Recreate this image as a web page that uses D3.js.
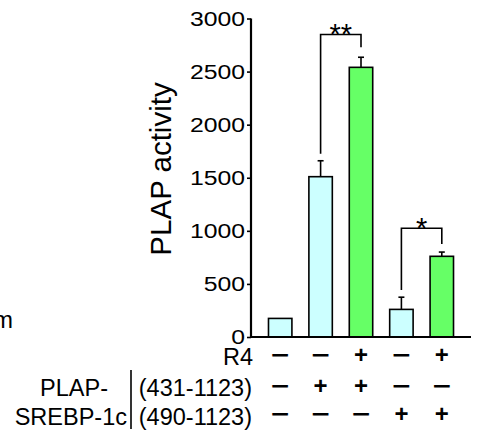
<!DOCTYPE html>
<html>
<head>
<meta charset="utf-8">
<script src="https://cdn.jsdelivr.net/npm/d3@7"></script>
<style>
  body { margin: 0; background: #fff; }
  text { font-family: "Liberation Sans", Arial, sans-serif; fill: #000; }
</style>
</head>
<body>
<div id="chart"></div>
<script>
let groups = ['g1', 'g2', 'g3', 'g4', 'g5'];
let values = [175, 1510, 2540, 260, 760];
let errors = [0, 150, 95, 115, 40];
let barColors = ['#ccffff', '#ccffff', '#66ff66', '#ccffff', '#66ff66'];
let yTicks = [0, 500, 1000, 1500, 2000, 2500, 3000];

let r4Row = ['\u2212', '\u2212', '+', '\u2212', '+'];
let row431 = ['\u2212', '+', '+', '\u2212', '\u2212'];
let row490 = ['\u2212', '\u2212', '\u2212', '+', '+'];

// significance brackets: from bar, to bar, bracket top, leg ends, label
let brackets = [
  {from: 1, to: 2, top: 2850, leftEnd: 1725, rightEnd: 2730, label: '**'},
  {from: 3, to: 4, top: 1025, leftEnd: 443, rightEnd: 875, label: '*'}
];

let dim = {width: 477, height: 430};

let svg = d3.select('#chart').append('svg')
    .attr('width', dim.width)
    .attr('height', dim.height);

let scaleX = d3.scaleBand()
    .domain(groups)
    .range([260, 462])
    .paddingInner(0.42)
    .paddingOuter(0.21);

let scaleY = d3.scaleLinear()
    .domain([0, 3000])
    .range([337, 18.5]);

let cx = i => scaleX(groups[i]) + scaleX.bandwidth() / 2;

// bars
svg.selectAll('rect.bar')
    .data(values)
    .join('rect')
    .attr('class', 'bar')
    .attr('x', (d, i) => scaleX(groups[i]))
    .attr('y', d => scaleY(d))
    .attr('width', scaleX.bandwidth())
    .attr('height', d => scaleY(0) - scaleY(d))
    .attr('fill', (d, i) => barColors[i])
    .attr('stroke', '#000')
    .attr('stroke-width', 1.6);

// error bars (upper only)
let err = svg.append('g').attr('stroke', '#000').attr('stroke-width', 1.6);
values.forEach((v, i) => {
    if (errors[i] <= 0) return;
    err.append('line')
        .attr('x1', cx(i)).attr('x2', cx(i))
        .attr('y1', scaleY(v)).attr('y2', scaleY(v + errors[i]));
    err.append('line')
        .attr('x1', cx(i) - 3).attr('x2', cx(i) + 3)
        .attr('y1', scaleY(v + errors[i])).attr('y2', scaleY(v + errors[i]));
});

// y axis
let axisY = d3.axisLeft(scaleY)
    .tickValues(yTicks)
    .tickSize(4)
    .tickPadding(2)
    .tickFormat(d3.format('d'));

let gy = svg.append('g')
    .attr('transform', 'translate(251, 0)')
    .call(axisY);
gy.select('.domain').attr('stroke-width', 2.2).attr('d', `M0,${scaleY(3000)}V${scaleY(0)}`);
gy.selectAll('.tick line').attr('stroke-width', 1.6);
// the reference's tick digits are wide for their height
gy.selectAll('.tick text')
    .attr('x', null)
    .attr('transform', 'translate(-6,0) scale(1.18,1)')
    .attr('font-size', 21)
    .attr('font-family', '"Liberation Sans", Arial, sans-serif');

// x axis baseline
svg.append('line')
    .attr('x1', 250).attr('x2', 471)
    .attr('y1', scaleY(0)).attr('y2', scaleY(0))
    .attr('stroke', '#000')
    .attr('stroke-width', 2.2);

// y label
svg.append('text')
    .attr('transform', `translate(171, ${(83 + 255) / 2}) rotate(-90)`)
    .attr('text-anchor', 'middle')
    .attr('font-size', 29.5)
    .text('PLAP activity');

// brackets
brackets.forEach(b => {
    let x1 = cx(b.from), x2 = cx(b.to);
    svg.append('path')
        .attr('d', `M${x1},${scaleY(b.leftEnd)}V${scaleY(b.top)}H${x2}V${scaleY(b.rightEnd)}`)
        .attr('fill', 'none')
        .attr('stroke', '#000')
        .attr('stroke-width', 1.6);
    svg.append('text')
        .attr('x', (x1 + x2) / 2)
        .attr('y', scaleY(b.top) + 10)
        .attr('text-anchor', 'middle')
        .attr('font-size', 29)
        .text(b.label);
});

// sign rows, y is the visual centre of each row
let rows = [
    {signs: r4Row, y: 356},
    {signs: row431, y: 387},
    {signs: row490, y: 415}
];
rows.forEach(r => {
    svg.append('g').selectAll('text')
        .data(r.signs)
        .join('text')
        .attr('transform', (d, i) =>
            `translate(${cx(i)},${r.y + 0.31 * 24}) scale(${d === '+' ? 1 : 1.3},1)`)
        .attr('text-anchor', 'middle')
        .attr('font-size', 24)
        .attr('font-weight', 'bold')
        .text(d => d);
});

// row labels
svg.append('text').attr('x', 253).attr('y', 365).attr('text-anchor', 'end')
    .attr('font-size', 23.5).text('R4');
svg.append('text').attr('x', 252).attr('y', 396).attr('text-anchor', 'end')
    .attr('font-size', 23.5).text('(431-1123)');
svg.append('text').attr('x', 252).attr('y', 425).attr('text-anchor', 'end')
    .attr('font-size', 23.5).text('(490-1123)');
svg.append('text').attr('x', 108).attr('y', 396).attr('text-anchor', 'end')
    .attr('font-size', 23.5).text('PLAP-');
svg.append('text').attr('x', 127).attr('y', 425).attr('text-anchor', 'end')
    .attr('font-size', 23.5).text('SREBP-1c');
svg.append('line')
    .attr('x1', 131).attr('x2', 131)
    .attr('y1', 370).attr('y2', 429)
    .attr('stroke', '#000')
    .attr('stroke-width', 1.6);

// clipped text from neighbouring panel
svg.append('text').attr('x', 13).attr('y', 328).attr('text-anchor', 'end')
    .attr('font-size', 24).text('m');
</script>
</body>
</html>
